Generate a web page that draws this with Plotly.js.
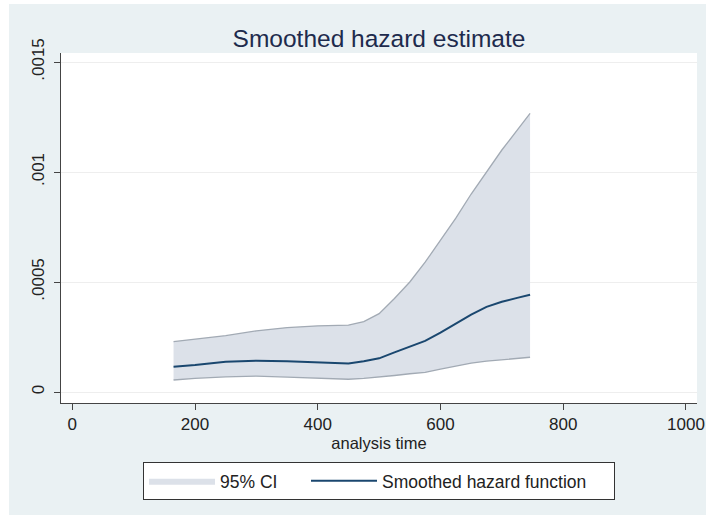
<!DOCTYPE html>
<html>
<head>
<meta charset="utf-8">
<script src="https://cdn.plot.ly/plotly-3.0.1.min.js"></script>
<style>
  html, body { margin: 0; padding: 0; background: #ffffff; width: 706px; height: 515px; overflow: hidden; }
  #chart { position: absolute; left: 9px; top: 4px; width: 697px; height: 511px; }
</style>
</head>
<body>
<div id="chart"></div>
<script>
// analysis time grid
const time = [165, 200, 250, 300, 350, 400, 450, 475, 500, 525, 550, 575, 600, 625, 650, 675, 700, 725, 746];
// smoothed hazard function
const hazard = [0.000115, 0.000123, 0.000138, 0.000142, 0.000140, 0.000136, 0.000130, 0.000140, 0.000153, 0.000180, 0.000206, 0.000232, 0.000270, 0.000312, 0.000352, 0.000387, 0.000410, 0.000428, 0.000442];
// 95% CI bounds
const ciLower = [0.0000545, 0.000062, 0.000069, 0.000072, 0.000068, 0.000063, 0.000058, 0.000062, 0.000067, 0.000075, 0.000083, 0.000089, 0.000104, 0.000118, 0.000131, 0.000140, 0.000147, 0.000153, 0.000158];
const ciUpper = [0.000229, 0.000240, 0.000256, 0.000278, 0.000293, 0.000301, 0.000304, 0.000320, 0.000356, 0.000425, 0.000500, 0.000590, 0.000690, 0.000790, 0.000900, 0.001000, 0.001100, 0.001190, 0.001267];
// axis ticks
const yTickVals = [0, 0.0005, 0.001, 0.0015];
const yTickText = ['0', '.0005', '.001', '.0015'];
const xTickVals = [0, 200, 400, 600, 800, 1000];

const fillColor = '#dce1e9';
const ciLine = '#a2aab4';
const meanColor = '#1a476f';

const traces = [
  { x: time, y: ciLower, type: 'scatter', mode: 'lines', line: { color: ciLine, width: 1.3 },
    showlegend: false, hoverinfo: 'skip' },
  { x: time, y: ciUpper, type: 'scatter', mode: 'lines', fill: 'tonexty', fillcolor: fillColor,
    line: { color: fillColor, width: 0 }, name: '95% CI', legendwidth: 81 },
  { x: time, y: ciUpper, type: 'scatter', mode: 'lines', line: { color: ciLine, width: 1.3 },
    showlegend: false, hoverinfo: 'skip' },
  { x: time, y: hazard, type: 'scatter', mode: 'lines', line: { color: meanColor, width: 2 },
    name: 'Smoothed hazard function', legendwidth: 227 }
];

const font = "'Liberation Sans', Arial, sans-serif";
const layout = {
  width: 697, height: 511,
  margin: { l: 52, r: 9, t: 49, b: 112 },
  paper_bgcolor: '#eaf1f3',
  plot_bgcolor: '#ffffff',
  font: { family: font, size: 17, color: '#222222' },
  title: { text: 'Smoothed hazard estimate', font: { family: font, size: 24.5, color: '#1e2b4d' },
           x: 0.5, xref: 'paper', xanchor: 'center', y: 0.933, yref: 'container', yanchor: 'middle' },
  xaxis: {
    range: [-18.4, 1018], tickmode: 'array', tickvals: xTickVals,
    showgrid: false, zeroline: false, showline: true, linecolor: '#444444', linewidth: 1,
    ticks: 'outside', ticklen: 6, tickcolor: '#444444', tickfont: { size: 17, color: '#222222' },
    title: { text: 'analysis time', font: { size: 16.5, color: '#222222' }, standoff: 0 }
  },
  yaxis: {
    range: [-0.00005, 0.001541], tickmode: 'array', tickvals: yTickVals, ticktext: yTickText,
    tickangle: -90, showgrid: true, gridcolor: '#eeeeee', gridwidth: 1, zeroline: false,
    showline: true, linecolor: '#444444', linewidth: 1, ticklabelstandoff: 3,
    ticks: 'outside', ticklen: 6, tickcolor: '#444444', tickfont: { size: 17, color: '#222222' }
  },
  legend: {
    orientation: 'h', x: 0.5, xanchor: 'center', y: -0.168, yanchor: 'top',
    bgcolor: '#ffffff', bordercolor: '#333333', borderwidth: 1,
    font: { size: 17.5, color: '#222222' }, itemwidth: 66, traceorder: 'normal'
  },
  showlegend: true
};

Plotly.newPlot('chart', traces, layout, { displayModeBar: false, staticPlot: true });
</script>
</body>
</html>
